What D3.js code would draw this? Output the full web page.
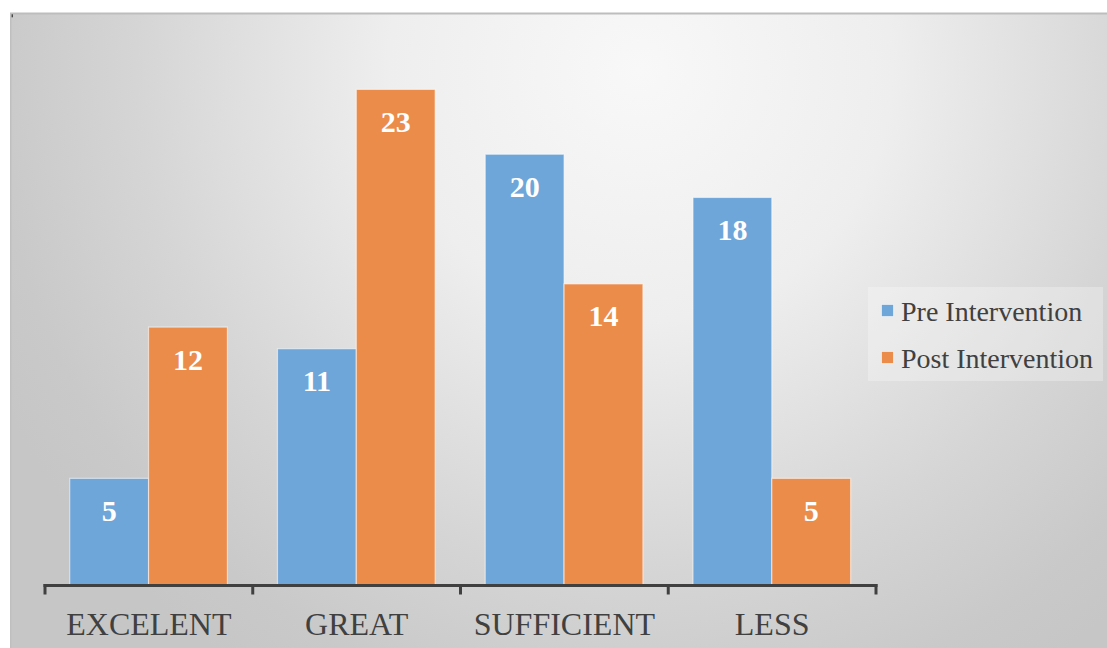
<!DOCTYPE html>
<html>
<head>
<meta charset="utf-8">
<script src="https://cdn.jsdelivr.net/npm/d3@7"></script>
<style>
  html, body { margin: 0; padding: 0; background: #ffffff; }
  svg { display: block; }
</style>
</head>
<body>
<svg id="chart" width="1107" height="648"></svg>
<script>
// Ratings before and after the intervention
const categories = ["EXCELENT", "GREAT", "SUFFICIENT", "LESS"];
const seriesNames = ["Pre Intervention", "Post Intervention"];
const preValues = [5, 11, 20, 18];
const postValues = [12, 23, 14, 5];
const seriesColors = ["#6fa6d9", "#eb8c4b"];

const rows = categories.map((c, i) => ({ category: c, values: [preValues[i], postValues[i]] }));

const svg = d3.select("#chart");
const W = 1107, H = 648;

// Soft grey panel background with a light spot near the top
const defs = svg.append("defs");
const grad = defs.append("radialGradient")
  .attr("id", "panelGrad")
  .attr("gradientUnits", "userSpaceOnUse")
  .attr("cx", 640).attr("cy", 70).attr("r", 720);
[[0, "#f8f8f8"], [0.35, "#eeeeee"], [0.7, "#d5d5d5"], [0.9, "#c9c9c9"], [1, "#c6c6c6"]]
  .forEach(([o, c]) => grad.append("stop").attr("offset", o).attr("stop-color", c));

svg.append("rect").attr("x", 10).attr("y", 13).attr("width", W - 10).attr("height", H - 13)
  .attr("fill", "url(#panelGrad)");
svg.append("rect").attr("x", 10).attr("y", 12.5).attr("width", W - 10).attr("height", 2)
  .attr("fill", "#bdbdbd");
svg.append("rect").attr("x", 10).attr("y", 13).attr("width", 1.5).attr("height", H - 13)
  .attr("fill", "#bfbfbf");
svg.append("rect").attr("x", 11.7).attr("y", 14.3).attr("width", 1).attr("height", 3)
  .attr("fill", "#111");

// Scales
const x0 = d3.scaleBand().domain(categories).range([45, 876]).padding(0);
const bw = x0.bandwidth();
const x1 = d3.scaleBand().domain(d3.range(seriesNames.length))
  .range([bw * 0.119, bw * 0.878]).padding(0);
const y = d3.scaleLinear().domain([0, 25]).range([586.4, 46.2]);

// Bars
const groups = svg.append("g").selectAll("g").data(rows).join("g")
  .attr("transform", d => `translate(${x0(d.category)},0)`);

groups.selectAll("rect").data(d => d.values.map((v, i) => ({ v, i }))).join("rect")
  .attr("x", d => x1(d.i))
  .attr("y", d => y(d.v))
  .attr("width", x1.bandwidth())
  .attr("height", d => y(0) - y(d.v))
  .attr("fill", d => seriesColors[d.i])
  .attr("stroke", "rgba(255,255,255,0.55)")
  .attr("stroke-width", 1.2);

// Value labels inside the bars
groups.selectAll("text").data(d => d.values.map((v, i) => ({ v, i }))).join("text")
  .attr("x", d => x1(d.i) + x1.bandwidth() / 2)
  .attr("y", d => y(d.v) + 42.5)
  .attr("text-anchor", "middle")
  .attr("fill", "#ffffff")
  .attr("font-family", "'Liberation Serif', 'Times New Roman', serif")
  .attr("font-weight", "bold")
  .attr("font-size", 30)
  .text(d => d.v);

// Category axis
const axis = svg.append("g").attr("transform", `translate(0,${585.5})`);
axis.call(d3.axisBottom(x0).tickSize(0).tickFormat(""));
axis.select(".domain").remove();
axis.append("line").attr("x1", 43.5).attr("x2", 877.5).attr("y1", 0).attr("y2", 0)
  .attr("stroke", "#404040").attr("stroke-width", 3);
const boundaries = categories.map(c => x0(c)).concat([x0.range()[1]]);
axis.selectAll("line.tick-mark").data(boundaries).join("line")
  .attr("class", "tick-mark")
  .attr("x1", d => d).attr("x2", d => d)
  .attr("y1", -1.5).attr("y2", 9)
  .attr("stroke", "#404040").attr("stroke-width", 3);
axis.selectAll("text.cat").data(categories).join("text")
  .attr("class", "cat")
  .attr("x", d => x0(d) + bw / 2)
  .attr("y", 49.5)
  .attr("text-anchor", "middle")
  .attr("fill", "#404040")
  .attr("font-family", "'Liberation Serif', 'Times New Roman', serif")
  .attr("font-size", 32)
  .text(d => d);

// Legend
const legend = svg.append("g");
legend.append("rect").attr("x", 868).attr("y", 287).attr("width", 235).attr("height", 94)
  .attr("fill", "rgba(255,255,255,0.28)");
const items = legend.selectAll("g").data(seriesNames).join("g")
  .attr("transform", (d, i) => `translate(0,${i * 47})`);
items.append("rect").attr("x", 881.5).attr("y", 304.5).attr("width", 12).attr("height", 12)
  .attr("fill", (d, i) => seriesColors[i])
  .attr("stroke", "rgba(255,255,255,0.55)").attr("stroke-width", 1);
items.append("text").attr("x", 901).attr("y", 320.5)
  .attr("fill", "#404040")
  .attr("font-family", "'Liberation Serif', 'Times New Roman', serif")
  .attr("font-size", 28)
  .text(d => d);
</script>
</body>
</html>
